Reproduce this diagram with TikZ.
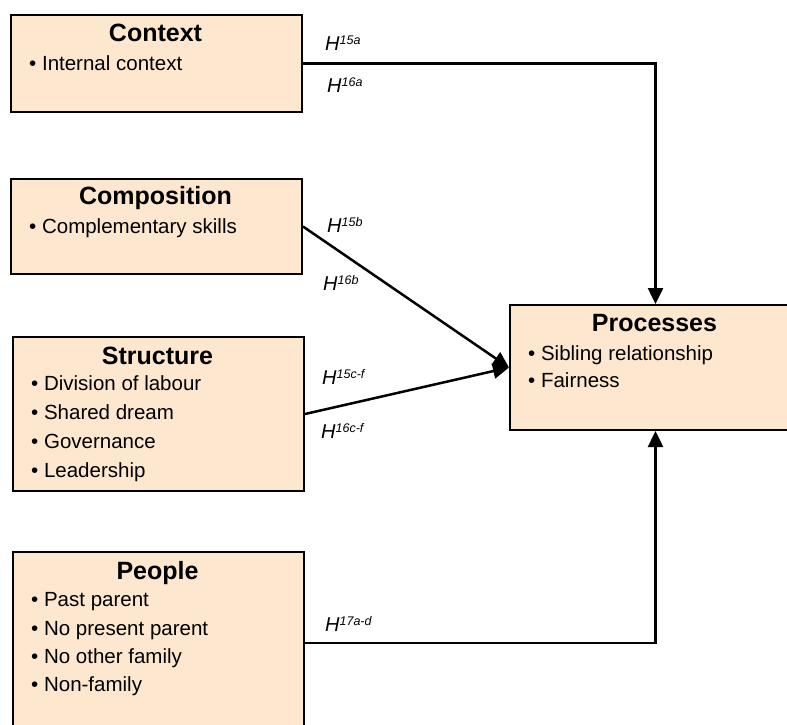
\documentclass[tikz,border=0pt]{standalone}
\usepackage{fontspec}
\setmainfont{Liberation Sans}
\usetikzlibrary{arrows.meta}
\definecolor{boxfill}{RGB}{253,231,207}
% hypothesis label: italic H with a small raised index
\newcommand\hyplabel[1]{H\raisebox{5.5pt}{\fontsize{12.5}{12.5}\selectfont #1}}
\begin{document}
\begin{tikzpicture}[x=1pt,y=-1pt,
  factor/.style={draw=black,line width=2pt,fill=boxfill,rectangle,inner sep=0pt,
    anchor=north west,minimum width=291pt},
  heading/.style={font=\fontsize{25}{25}\selectfont\bfseries,anchor=base,inner sep=0pt},
  item/.style={font=\fontsize{20.5}{20.5}\selectfont,anchor=base west,inner sep=0pt},
  hyp/.style={font=\fontsize{20}{20}\selectfont\itshape,anchor=base west,inner sep=0pt},
  link/.style={line width=2.5pt},
  tip/.style={-{Triangle[length=16pt,width=15pt]}}
]
\clip (0,0) rectangle (787,724);
\fill[white] (0,0) rectangle (787,724);

% factor boxes
\node[factor,minimum height=97pt]  (ctx)    at (10,14)  {};
\node[factor,minimum height=95pt]  (comp)   at (10,178) {};
\node[factor,minimum height=154pt] (struct) at (12,336) {};
\node[factor,minimum height=182pt] (ppl)    at (12,551) {};
\node[factor,minimum height=125pt] (proc)   at (509,304) {};

% Context
\node[heading] (ctxT) at (155.5,41) {Context};
\node[item] (ctx1) at (29,70) {\textbullet\ Internal context};

% Composition
\node[heading] (compT) at (155.5,204) {Composition};
\node[item] (comp1) at (29,233) {\textbullet\ Complementary skills};

% Structure
\node[heading] (structT) at (157.5,364) {Structure};
\node[item] (struct1) at (31,390) {\textbullet\ Division of labour};
\node[item] (struct2) at (31,419) {\textbullet\ Shared dream};
\node[item] (struct3) at (31,448) {\textbullet\ Governance};
\node[item] (struct4) at (31,477) {\textbullet\ Leadership};

% People
\node[heading] (pplT) at (157.5,579) {People};
\node[item] (ppl1) at (31,606) {\textbullet\ Past parent};
\node[item] (ppl2) at (31,635) {\textbullet\ No present parent};
\node[item] (ppl3) at (31,663) {\textbullet\ No other family};
\node[item] (ppl4) at (31,691) {\textbullet\ Non-family};

% Processes
\node[heading] (procT) at (654.5,331) {Processes};
\node[item] (proc1) at (528,360) {\textbullet\ Sibling relationship};
\node[item] (proc2) at (528,387) {\textbullet\ Fairness};

% connectors
\draw[link,tip] (ctx.east) -| (proc.north);
\draw[link,tip] (comp.east) -- (proc.west);
\draw[link,tip] (struct.east) -- (proc.west);
\draw[link,tip] (ppl.east) -| (proc.south);

% hypothesis labels
\node[hyp] (h15a) at (325,50)  {\hyplabel{15a}};
\node[hyp] (h16a) at (327,92)  {\hyplabel{16a}};
\node[hyp] (h15b) at (327,232) {\hyplabel{15b}};
\node[hyp] (h16b) at (323,290) {\hyplabel{16b}};
\node[hyp] (h15c) at (322,384) {\hyplabel{15c-f}};
\node[hyp] (h16c) at (321,438) {\hyplabel{16c-f}};
\node[hyp] (h17)  at (325,631) {\hyplabel{17a-d}};
\end{tikzpicture}
\end{document}
